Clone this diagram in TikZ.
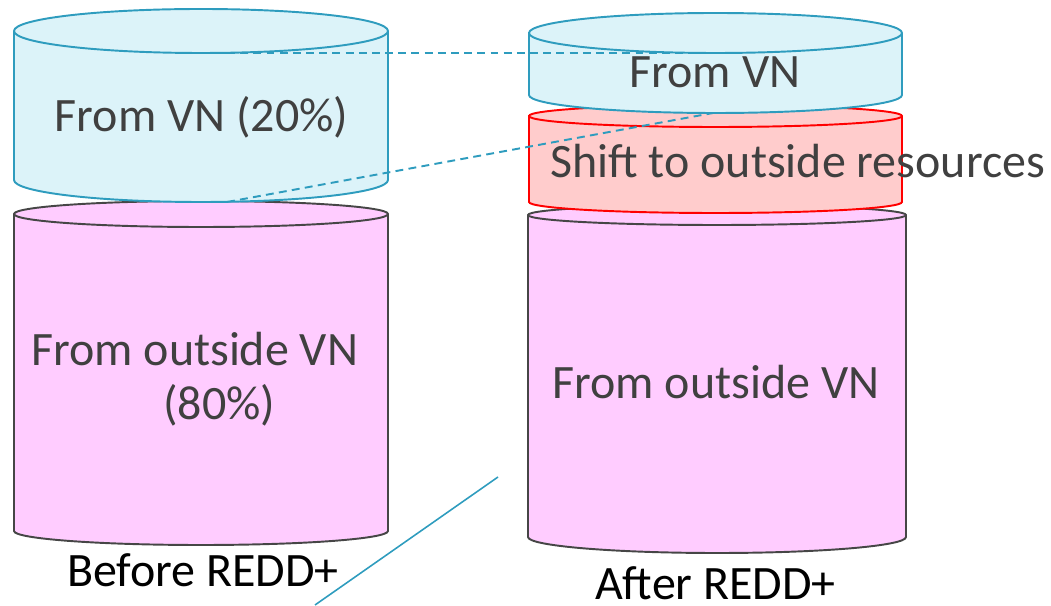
\documentclass[tikz,border=0pt]{standalone}
\usepackage{fontspec}
\setmainfont{Carlito}
\definecolor{vnline}{RGB}{46,156,190}
\definecolor{vnfill}{RGB}{220,243,249}
\definecolor{outfill}{RGB}{255,204,255}
\definecolor{outedge}{RGB}{70,70,70}
\definecolor{shiftfill}{RGB}{255,204,204}
\definecolor{txtgray}{RGB}{64,64,64}
\newcommand{\drum}[7]{%
  \path[#1] (#2,#4) -- (#2,#5)
    arc[start angle=180, end angle=360, x radius={(#3-#2)/2}, y radius=#7]
    -- (#3,#4)
    arc[start angle=0, end angle=180, x radius={(#3-#2)/2}, y radius=#6]
    -- cycle
    (#2,#4) arc[start angle=180, end angle=360, x radius={(#3-#2)/2}, y radius=#6];}
\tikzset{
  vndrum/.style={draw=vnline, fill=vnfill, line width=1.1pt},
  outdrum/.style={draw=outedge, fill=outfill, line width=1.1pt},
  shiftdrum/.style={draw=red, fill=shiftfill, line width=1.1pt},
  lbl/.style={font=\fontsize{27.3}{31.3}\selectfont, text=txtgray, inner sep=0pt},
  caption/.style={font=\fontsize{27.3}{31.3}\selectfont, text=black, inner sep=0pt},
  link/.style={draw=vnline, line width=1.1pt, dash pattern=on 4.5pt off 3pt}
}

\begin{document}
\begin{tikzpicture}[x=0.02cm, y=0.02cm]
    \useasboundingbox (0,0) rectangle (1051,605);
    \drum{outdrum}{14}{388}{391}{74}{13}{14}
    \drum{vndrum}{14}{388}{574}{425}{22}{22}
    \drum{outdrum}{528}{906}{390}{68}{10}{16}
    \drum{shiftdrum}{529}{902}{489}{403}{11}{11}
    \drum{vndrum}{529}{902}{572}{510}{20}{18}
    \coordinate (vnA top) at (227, 552);
    \coordinate (vnA bot) at (227, 403);
    \coordinate (vnB top) at (711, 552);
    \coordinate (vnB bot) at (713, 492);
    \coordinate (cut1) at (315, 0);
    \coordinate (cut2) at (498, 128);
    \draw[link] (vnA top) -- (vnB top);
    \draw[link] (vnA bot) -- (vnB bot);
    \draw[vnline, line width=0.9pt] (cut1) -- (cut2);
    \node[lbl, anchor=base] (vnA) at (201.5, 473) {From VN (20\%)};
    \node[lbl, anchor=base] (vnB) at (715, 517) {From VN};
    \node[lbl, anchor=base west] (shiftB) at (550, 427) {Shift to outside resources};
    \node[lbl, anchor=base west, align=left] (outA) at (31, 185)
      {From outside VN\\\hspace*{2.64cm}(80\%)};
    \node[lbl, anchor=base] (outB) at (716, 206) {From outside VN};
    \node[caption, anchor=base] (before) at (203, 19) {Before REDD+};
    \node[caption, anchor=base] (after) at (715.5, 6) {After REDD+};
\end{tikzpicture}
\end{document}
